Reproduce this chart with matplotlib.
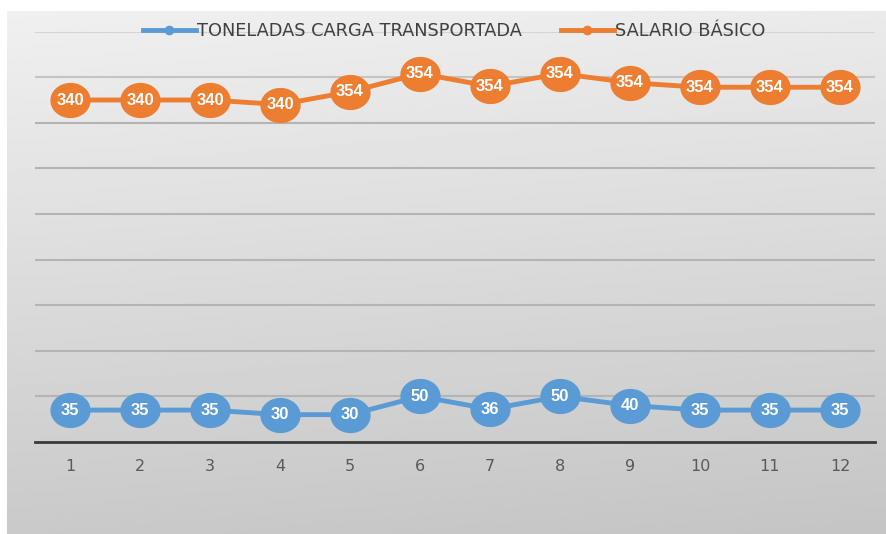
import matplotlib.pyplot as plt
import numpy as np
from matplotlib.path import Path

# datos mensuales
meses = [1, 2, 3, 4, 5, 6, 7, 8, 9, 10, 11, 12]
toneladas = [35, 35, 35, 30, 30, 50, 36, 50, 40, 35, 35, 35]
salario = [340, 340, 340, 340, 354, 354, 354, 354, 354, 354, 354, 354]

AZUL = '#5B9BD5'
NARANJA = '#ED7D31'

# marcador elíptico (un poco más ancho que alto)
t = np.linspace(0, 2 * np.pi, 60)
elipse = Path(np.column_stack([np.cos(t), 0.87 * np.sin(t)]), closed=True)

fig = plt.figure(figsize=(8.87, 5.34), dpi=100)
fig.patch.set_facecolor('white')

# fondo degradado gris
bg = fig.add_axes([7 / 887, 0, 880 / 887, 523 / 534])
bg.axis('off')
grad_v = np.linspace(0.94, 0.79, 200)[:, None]
grad_h = np.linspace(0.0, -0.02, 300)[None, :]
bg.imshow(np.clip(grad_v + grad_h, 0, 1), cmap='gray', vmin=0, vmax=1,
          aspect='auto', extent=[0, 1, 0, 1])

ax = fig.add_axes([35 / 887, 92 / 534, 840 / 887, 410.4 / 534])
ax.patch.set_alpha(0)

# líneas apiladas: la serie naranja se suma sobre la azul
acumulado = [a + b for a, b in zip(toneladas, salario)]

ax.plot(meses, toneladas, color=AZUL, lw=3.5, marker=elipse, ms=28,
        mfc=AZUL, mec=AZUL, zorder=3)
ax.plot(meses, acumulado, color=NARANJA, lw=3.5, marker=elipse, ms=28,
        mfc=NARANJA, mec=NARANJA, zorder=3)

etiqueta = dict(color='white', fontsize=12, fontweight='bold',
                family='Liberation Sans', ha='center', va='center', zorder=4)
for x, y, v in zip(meses, toneladas, toneladas):
    ax.text(x, y, str(v), **etiqueta)
for x, y, v in zip(meses, acumulado, salario):
    ax.text(x, y, str(v), **etiqueta)

ax.set_xlim(0.5, 12.5)
ax.set_ylim(0, 450)
ax.set_yticks(range(50, 451, 50))
ax.set_yticklabels([])
ax.tick_params(axis='y', length=0)
ax.grid(axis='y', color='#b4b4b4', lw=1.5)
ax.set_axisbelow(True)
# la línea superior casi no se ve
lineas = ax.yaxis.get_gridlines()
lineas[-1].set_color('#d4d4d4')
lineas[-2].set_color('#c4c4c4')

ax.set_xticks(meses)
ax.tick_params(axis='x', length=0, pad=12, labelsize=11.5, labelcolor='#595959')

for s in ['top', 'right', 'left']:
    ax.spines[s].set_visible(False)
ax.spines['bottom'].set_color('#3a3a3a')
ax.spines['bottom'].set_linewidth(2)

# leyenda
h1, = ax.plot([], [], color=AZUL, lw=3.5, marker='o', ms=6)
h2, = ax.plot([], [], color=NARANJA, lw=3.5, marker='o', ms=6)
fig.legend([h1, h2], ['TONELADAS CARGA TRANSPORTADA', 'SALARIO BÁSICO'],
           loc='center', bbox_to_anchor=(454 / 887, 1 - 31 / 534), ncol=2,
           frameon=False, fontsize=12.8, labelcolor='#404040',
           handlelength=3.0, handletextpad=0.05, columnspacing=2.2)

plt.savefig('out.png', dpi=100, facecolor='white')
plt.close()
